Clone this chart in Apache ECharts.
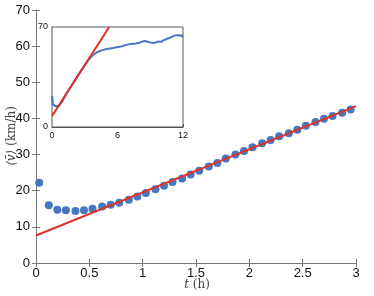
<!DOCTYPE html>
<html><head><meta charset="utf-8">
<script src="https://cdn.jsdelivr.net/npm/echarts@6/dist/echarts.min.js"></script>
<style>html,body{margin:0;padding:0;background:#fff}#c{width:374px;height:296px}</style>
</head><body><div id="c"></div>
<script>
// main panel data
const mainT = [0.03,0.12,0.2,0.28,0.37,0.45,0.53,0.62,0.7,0.78,0.87,0.95,1.03,1.12,1.2,1.28,1.37,1.45,1.53,1.62,1.7,1.78,1.87,1.95,2.03,2.12,2.2,2.28,2.37,2.45,2.53,2.62,2.7,2.78,2.87,2.95];
const mainV = [22.2,16.0,14.7,14.6,14.4,14.6,15.0,15.6,16.1,16.7,17.5,18.4,19.4,20.4,21.4,22.4,23.4,24.5,25.5,26.7,27.7,28.9,30.0,31.0,32.0,33.1,34.0,35.1,35.9,36.9,38.0,39.0,39.9,40.7,41.6,42.5];
const fitT = [0, 3];
const fitV = [7.6, 43.4];
const xTicks = [0, 0.5, 1, 1.5, 2, 2.5, 3];
const yTicks = [0, 10, 20, 30, 40, 50, 60, 70];
const xTitle = 't (h)';
const yTitle = '⟨v̄⟩ (km/h)';
// inset data
const insetT = [0,0.04,0.08,0.15,0.3,0.46,0.62,0.76,0.91,1.2,1.5,1.8,2.1,2.4,2.7,3.0,3.3,3.6,3.9,4.1,4.4,4.7,5.0,5.3,5.6,5.9,6.2,6.5,6.8,7.1,7.4,7.7,8.0,8.3,8.5,8.7,9.0,9.3,9.5,9.7,9.85,10.0,10.2,10.5,10.8,11.1,11.4,11.6,11.8,11.9,12.0];
const insetV = [21.5,20,16,15.0,14.6,14.5,14.8,15.3,17.2,21.8,25.5,29.1,32.7,36.2,39.8,43.3,46.5,49.2,51.2,52.2,53.2,54.0,54.6,55.0,55.3,55.8,56.1,56.8,57.5,58.0,58.2,58.4,59.0,59.8,60.2,59.8,59.2,58.8,59.2,59.8,59.3,59.6,60.6,61.6,62.5,63.6,64.3,64.1,64.3,63.8,63.0];
const insetFitT = [0, 5.24];
const insetFitV = [7.6, 70];
const insetXTicks = [0, 6, 12];
const insetYTicks = [0, 70];

const zip = (a, b) => a.map((v, i) => [v, b[i]]);
const blue = '#4677c0', red = '#e03226', axisGray = '#7a7a7a';
const tickFont = {color: '#111', fontFamily: 'Liberation Sans', fontSize: 13};
const titleRich = {
  i: {fontStyle: 'italic', fontFamily: 'DejaVu Serif', fontSize: 12, fill: '#444'},
  n: {fontFamily: 'DejaVu Serif', fontSize: 12, fill: '#444'}
};
const splitTitle = s => { const k = s.indexOf(' '); return '{i|' + s.slice(0, k) + '}{n|' + s.slice(k) + '}'; };

const chart = echarts.init(document.getElementById('c'), null, {renderer: 'canvas'});
chart.setOption({
  animation: false,
  grid: [
    {left: 36, top: 10, right: 18, bottom: 33, containLabel: false, outerBoundsMode: 'none'},
    {left: 52, top: 27, width: 131, height: 100, show: true, backgroundColor: '#fff', borderColor: '#555', borderWidth: 1, z: 5, containLabel: false, outerBoundsMode: 'none'}
  ],
  graphic: [
    {type: 'text', x: 197, y: 285, style: {text: splitTitle(xTitle), rich: titleRich, align: 'center', verticalAlign: 'middle'}},
    {type: 'text', x: 12, y: 136, rotation: Math.PI / 2, style: {text: splitTitle(yTitle), rich: titleRich, align: 'center', verticalAlign: 'middle'}}
  ],
  xAxis: [
    {gridIndex: 0, type: 'value', min: xTicks[0], max: xTicks[xTicks.length-1], interval: 0.5,
     axisLine: {lineStyle: {color: axisGray}}, axisTick: {inside: true, length: 4, lineStyle: {color: axisGray}},
     splitLine: {show: false}, axisLabel: Object.assign({margin: 4}, tickFont)},
    {gridIndex: 0, type: 'value', position: 'top', min: 0, max: 3, interval: 0.5,
     axisLine: {lineStyle: {color: axisGray}}, axisTick: {inside: true, length: 4, lineStyle: {color: axisGray}},
     splitLine: {show: false}, axisLabel: {show: false}},
    {gridIndex: 1, type: 'value', min: insetXTicks[0], max: insetXTicks[2], interval: 6,
     axisLine: {lineStyle: {color: '#555'}}, axisTick: {inside: true, length: 3, lineStyle: {color: '#555'}},
     splitLine: {show: false}, axisLabel: {margin: 4, color: '#111', fontFamily: 'Liberation Sans', fontSize: 9}}
  ],
  yAxis: [
    {gridIndex: 0, type: 'value', min: yTicks[0], max: yTicks[yTicks.length-1], interval: 10,
     axisLine: {lineStyle: {color: axisGray}}, axisTick: {inside: true, length: 4, lineStyle: {color: axisGray}},
     splitLine: {show: false}, axisLabel: Object.assign({margin: 6}, tickFont)},
    {gridIndex: 0, type: 'value', position: 'right', min: 0, max: 70, interval: 10,
     axisLine: {lineStyle: {color: axisGray}}, axisTick: {inside: true, length: 4, lineStyle: {color: axisGray}},
     splitLine: {show: false}, axisLabel: {show: false}},
    {gridIndex: 1, type: 'value', min: insetYTicks[0], max: insetYTicks[1], interval: 70,
     axisLine: {lineStyle: {color: '#555'}}, axisTick: {show: false},
     splitLine: {show: false}, axisLabel: {margin: 4, color: '#111', fontFamily: 'Liberation Sans', fontSize: 9}}
  ],
  series: [
    {type: 'scatter', xAxisIndex: 0, yAxisIndex: 0, data: zip(mainT, mainV), symbolSize: 8,
     itemStyle: {color: blue, opacity: 1}, z: 2},
    {type: 'line', xAxisIndex: 0, yAxisIndex: 0, data: zip(fitT, fitV), symbol: 'none',
     lineStyle: {color: red, width: 2}, z: 3},
    {type: 'line', xAxisIndex: 2, yAxisIndex: 2, data: zip(insetT, insetV), symbol: 'none',
     lineStyle: {color: blue, width: 2}, z: 6},
    {type: 'line', xAxisIndex: 2, yAxisIndex: 2, data: zip(insetFitT, insetFitV), symbol: 'none',
     lineStyle: {color: red, width: 2}, z: 7}
  ]
});
</script></body></html>
